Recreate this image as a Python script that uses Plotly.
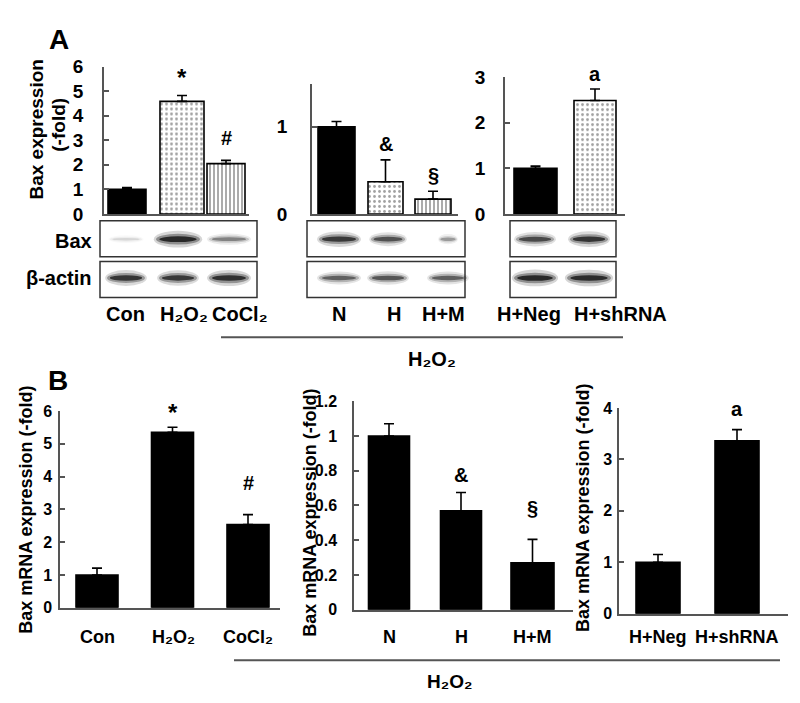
import plotly.graph_objects as go

W, H = 800, 703

# ---------------- data ----------------
a1_cats = ["Con", "H₂O₂", "CoCl₂"]
a1_vals = [1.0, 4.58, 2.05]
a1_err = [0.07, 0.24, 0.13]
a1_sig = ["", "*", "#"]

a2_cats = ["N", "H", "H+M"]
a2_vals = [1.0, 0.37, 0.17]
a2_err = [0.06, 0.25, 0.09]
a2_sig = ["", "&", "§"]

a3_cats = ["H+Neg", "H+shRNA"]
a3_vals = [1.0, 2.49]
a3_err = [0.05, 0.25]
a3_sig = ["", "a"]

b1_cats = a1_cats
b1_vals = [1.0, 5.35, 2.54]
b1_err = [0.21, 0.15, 0.30]
b1_sig = ["", "*", "#"]

b2_cats = a2_cats
b2_vals = [1.0, 0.57, 0.27]
b2_err = [0.07, 0.105, 0.135]
b2_sig = ["", "&", "§"]

b3_cats = a3_cats
b3_vals = [1.0, 3.36]
b3_err = [0.15, 0.22]
b3_sig = ["", "a"]

# western blot band intensities (0..1)
a1_bax = [0.12, 0.97, 0.45]
a1_actin = [0.88, 0.85, 0.92]
a2_bax = [0.85, 0.70, 0.35]
a2_actin = [0.62, 0.68, 0.62]
a3_bax = [0.75, 0.88]
a3_actin = [0.97, 0.95]

group_label = "H₂O₂"
ytitle_a1 = "Bax expression"
ytitle_a2 = "(-fold)"
ytitle_b = "Bax mRNA expression (-fold)"

# ---------------- style / layout ----------------
FONT = "Liberation Sans, Arial, DejaVu Sans, sans-serif"
AX = "#555555"
fig = go.Figure()

SOLID = dict(color="black", shape="", size=5, sol=0.3)
DOTS = dict(color="white", shape=".", size=5, sol=0.25)
VSTR = dict(color="white", shape="|", size=4, sol=0.45)

panels = [
    dict(vals=a1_vals, err=a1_err, sig=a1_sig, x0=96, x1=241, yt=50, yb=202, yr=[0, 6],
         tv=[0, 1, 2, 3, 4, 5, 6], c=[119, 174, 218], w=[38, 44, 38], st=[SOLID, DOTS, VSTR],
         tf=19, so=15, sh=[0, 22, 22]),
    dict(vals=a2_vals, err=a2_err, sig=a2_sig, x0=304, x1=450, yt=68, yb=202, yr=[0, 1.49],
         tv=[0, 1], c=[328.5, 377.5, 425], w=[37, 35, 36], st=[SOLID, DOTS, VSTR],
         tf=19, so=19, sh=[0, 16, 16]),
    dict(vals=a3_vals, err=a3_err, sig=a3_sig, x0=497, x1=617, yt=61, yb=202, yr=[0, 3],
         tv=[0, 1, 2, 3], c=[527.5, 587], w=[43, 42], st=[SOLID, DOTS],
         tf=19, so=14, sh=[0, 15]),
    dict(vals=b1_vals, err=b1_err, sig=b1_sig, x0=52, x1=272, yt=405, yb=608, yr=[0, 6],
         tv=[0, 1, 2, 3, 4, 5, 6], c=[89, 164.5, 240], w=[42, 42, 42], st=[SOLID, SOLID, SOLID],
         tf=16, so=3, sh=[0, 19, 32]),
    dict(vals=b2_vals, err=b2_err, sig=b2_sig, x0=346, x1=565, yt=395, yb=610, yr=[0, 1.2],
         tv=[0, 0.2, 0.4, 0.6, 0.8, 1.0, 1.2], c=[381, 453, 524.5], w=[41, 41, 43],
         st=[SOLID, SOLID, SOLID], tf=16, so=12, sh=[0, 17, 31]),
    dict(vals=b3_vals, err=b3_err, sig=b3_sig, x0=611, x1=780, yt=402, yb=614, yr=[0, 4],
         tv=[0, 1, 2, 3, 4], c=[650, 729], w=[44, 44], st=[SOLID, SOLID],
         tf=16, so=2, sh=[0, 21]),
]

annotations = []
for i, p in enumerate(panels, start=1):
    n = len(p["vals"])
    fig.add_trace(go.Bar(
        x=p["c"], y=p["vals"], width=p["w"], xaxis=f"x{i}", yaxis=f"y{i}",
        marker=dict(color=[s["color"] for s in p["st"]],
                    line=dict(color="black", width=1.6),
                    pattern=dict(shape=[s["shape"] for s in p["st"]], fgcolor="black",
                                 bgcolor="white", size=[s["size"] for s in p["st"]],
                                 solidity=[s["sol"] for s in p["st"]])),
        error_y=dict(type="data", array=p["err"], arrayminus=[0] * n, symmetric=False,
                     color="black", thickness=1.6, width=5),
        showlegend=False, hoverinfo="skip"))
    fig.layout[f"xaxis{i}"] = dict(
        domain=[p["x0"] / W, p["x1"] / W], range=[p["x0"], p["x1"]], anchor=f"y{i}",
        showline=True, linecolor=AX, linewidth=1.5, showticklabels=False, ticks="",
        showgrid=False, zeroline=False)
    fig.layout[f"yaxis{i}"] = dict(
        domain=[1 - p["yb"] / H, 1 - p["yt"] / H], range=p["yr"], anchor=f"x{i}",
        showline=True, linecolor=AX, linewidth=1.5, ticks="inside", ticklen=5,
        tickcolor=AX, tickwidth=1.5, tickvals=p["tv"], showgrid=False, zeroline=False,
        tickfont=dict(family=FONT, size=p["tf"], color="black", weight="bold"),
        ticklabelstandoff=p["so"])
    for k in range(n):
        if p["sig"][k]:
            sz = 24 if p["sig"][k] == "*" else 20
            annotations.append(dict(
                x=p["c"][k], y=p["vals"][k] + p["err"][k], xref=f"x{i}", yref=f"y{i}",
                text=p["sig"][k], showarrow=False, yanchor="middle",
                yshift=p["sh"][k] - (4 if p["sig"][k] == "*" else 0),
                font=dict(family=FONT, size=sz, color="black", weight="bold")))

# overlay axis in pixel coordinates for blots, lines and labels
fig.add_trace(go.Scatter(x=[0], y=[0], xaxis="x7", yaxis="y7", mode="markers",
                         marker=dict(opacity=0), showlegend=False, hoverinfo="skip"))
fig.layout["xaxis7"] = dict(domain=[0, 1], range=[0, W], visible=False, anchor="y7")
fig.layout["yaxis7"] = dict(domain=[0, 1], range=[H, 0], visible=False, anchor="x7")

shapes = []
blots = [
    dict(x0=92, x1=249, lanes=[118, 170, 221], bax=a1_bax, actin=a1_actin,
         bw=[32, 44, 40], aw=[38, 38, 40]),
    dict(x0=299, x1=457, lanes=[331, 380, 440], bax=a2_bax, actin=a2_actin,
         bw=[40, 34, 18], aw=[40, 38, 38]),
    dict(x0=502, x1=608, lanes=[527, 581], bax=a3_bax, actin=a3_actin,
         bw=[38, 38], aw=[42, 44]),
]
BOX = [(209, 246, 228, "bax", "bw"), (251, 288, 268, "actin", "aw")]
for b in blots:
    for (yt, yb, yc, key, wkey) in BOX:
        shapes.append(dict(type="rect", xref="x7", yref="y7", x0=b["x0"], x1=b["x1"],
                           y0=yt, y1=yb, line=dict(color="#333333", width=1.5),
                           fillcolor="white", layer="above"))
        for lx, inten, bw in zip(b["lanes"], b[key], b[wkey]):
            th = 3 + 5 * inten
            for fw, fh, fa in [(1.1, 2.2, 0.18), (1.0, 1.4, 0.38), (0.85, 0.75, 0.85)]:
                shapes.append(dict(type="circle", xref="x7", yref="y7",
                                   x0=lx - bw * fw / 2, x1=lx + bw * fw / 2,
                                   y0=yc - th * fh / 2, y1=yc + th * fh / 2,
                                   line=dict(width=0),
                                   fillcolor=f"rgba(20,20,20,{min(1, inten * fa):.3f})",
                                   layer="above"))

# group lines
shapes.append(dict(type="line", xref="x7", yref="y7", x0=213, x1=615, y0=329, y1=329,
                   line=dict(color="#555555", width=2)))
shapes.append(dict(type="line", xref="x7", yref="y7", x0=226, x1=772, y0=662, y1=662,
                   line=dict(color="#555555", width=2)))


def txt(x, y, t, size, anchor="center", angle=0, bold=True):
    annotations.append(dict(x=x, y=y, xref="x7", yref="y7", text=t, showarrow=False,
                            xanchor=anchor, yanchor="middle", textangle=angle,
                            font=dict(family=FONT, size=size, color="black",
                                      weight="bold" if bold else "normal")))


txt(51, 22, "A", 28)
txt(50, 374, "B", 28)
txt(29, 115, ytitle_a1, 19, angle=-90)
txt(51, 110, ytitle_a2, 19, angle=-90)
txt(86, 230, "Bax", 20, anchor="right")
txt(86, 268, "β-actin", 20, anchor="right")
for x, t in zip([117, 176, 232], a1_cats):
    txt(x, 305, t, 20)
for x, t in zip([331, 386, 435], a2_cats):
    txt(x, 305, t, 20)
for x, t in zip([521, 612], a3_cats):
    txt(x, 305, t, 20)
txt(424, 351, group_label, 20)

txt(18, 507, ytitle_b, 18, angle=-90)
txt(302, 510, ytitle_b, 18, angle=-90)
txt(575, 505, ytitle_b, 18, angle=-90)
for x, t in zip([89, 165, 240], b1_cats):
    txt(x, 638, t, 18)
for x, t in zip([381, 453, 524], b2_cats):
    txt(x, 638, t, 18)
for x, t in zip([650, 729], b3_cats):
    txt(x, 638, t, 18)
txt(441, 684, group_label, 19)

fig.update_layout(width=W, height=H, margin=dict(l=0, r=0, t=0, b=0),
                  paper_bgcolor="white", plot_bgcolor="rgba(0,0,0,0)",
                  shapes=shapes, annotations=annotations, barmode="overlay",
                  font=dict(family=FONT, size=16, color="black"))
fig.write_html("out.html")
